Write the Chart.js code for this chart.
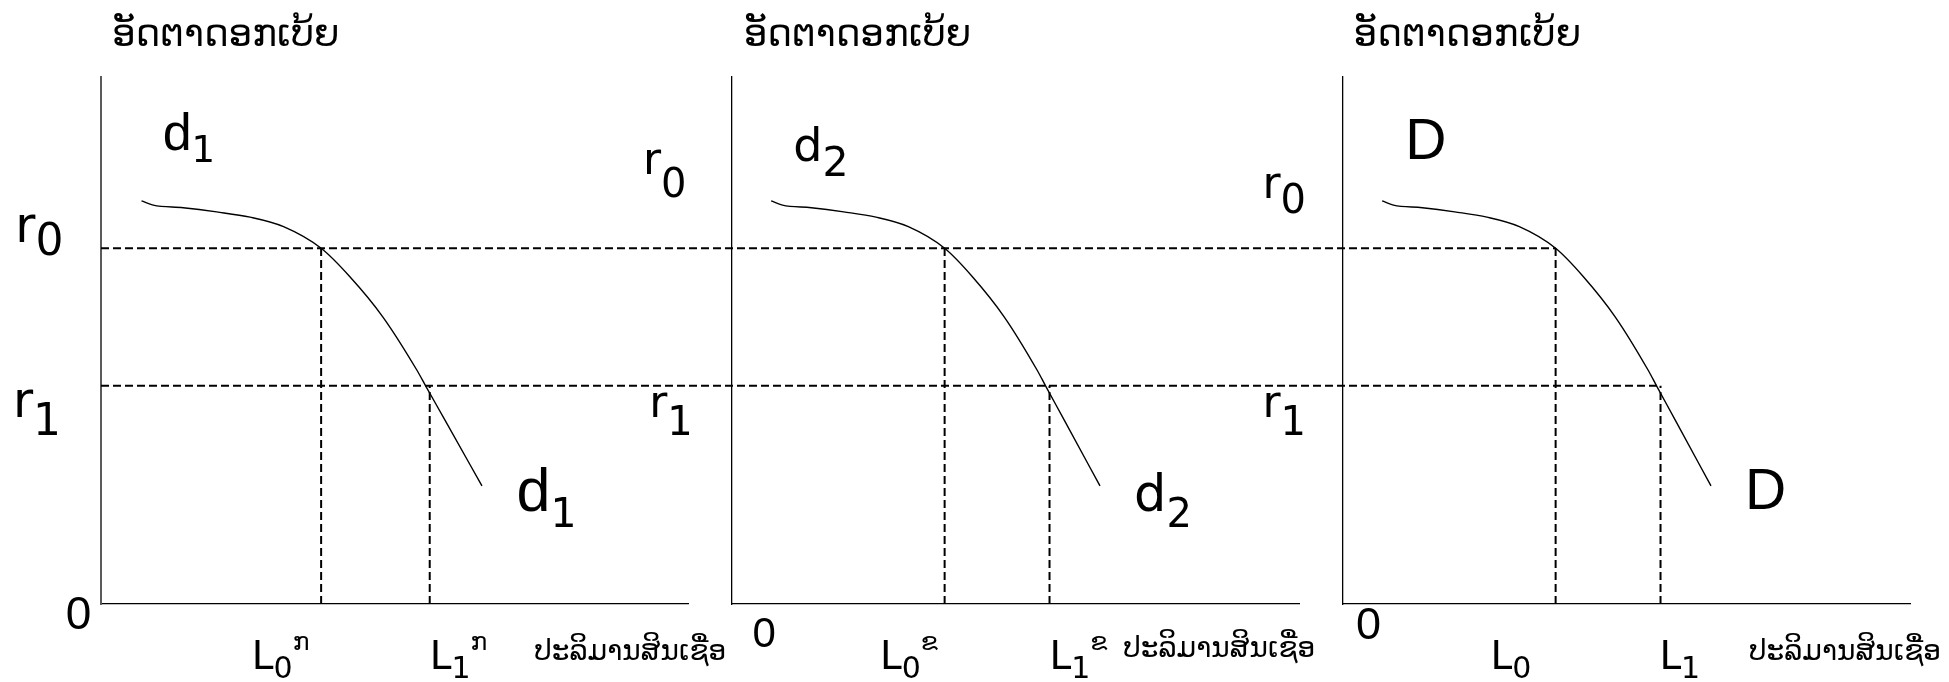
<!DOCTYPE html>
<html>
<head>
<meta charset="utf-8">
<title>ອັດຕາດອກເບ້ຍ</title>
<script src="https://cdn.jsdelivr.net/npm/chart.js@4.4.1/dist/chart.umd.min.js"></script>
<style>
    html, body { margin: 0; padding: 0; background: #fff; }
    #wrap { position: relative; width: 1949px; height: 682px; overflow: hidden; }
    #wrap canvas { position: absolute; left: 0; top: 0; }
</style>
</head>
<body>
<div id="wrap">
    <canvas id="panel1" width="1949" height="682"></canvas>
    <canvas id="panel2" width="1949" height="682"></canvas>
    <canvas id="panel3" width="1949" height="682"></canvas>
</div>
<script>
// Loan demand curve (same shape in all three panels), axis units 0..100
const loanQty  = [6.9, 8.9, 14.0, 19.7, 25.4, 31.1, 37.5, 42.4, 48.0, 53.8, 55.3, 58.6, 64.9];
const loanRate = [76.5, 75.7, 75.2, 74.4, 73.4, 71.6, 67.5, 62.1, 54.5, 44.4, 41.4, 34.9, 22.4];

// Interest rates r0, r1 and loan amounts L0, L1
const rateLevels = [67.5, 41.4];
const loanLevels = [37.5, 56];

// Texts
const yTitle = 'ອັດຕາດອກເບ້ຍ';
const xTitle = 'ປະລິມານສິນເຊື່ອ';
const curveNames = ['d', 'd', 'D'];
const curveSubs = ['1', '2', ''];
const loanSups = ['ກ', 'ຂ', ''];

const LAO = "'DejaVu Sans'";
const TAHOMA = "'DejaVu Sans'";
const ARIAL = "'Liberation Sans', Arial";

// Draws the text labels of a panel, placed through the panel's scales
const textPlugin = {
    id: 'panelText',
    afterDraw(chart, args, opts) {
        const { ctx } = chart;
        const xs = chart.scales.x;
        const ys = chart.scales.y;
        ctx.save();
        ctx.fillStyle = '#000';
        ctx.textBaseline = 'alphabetic';
        ctx.textAlign = 'left';
        (opts.items || []).forEach(item => {
            let px = xs.getPixelForValue(item.x);
            const py = ys.getPixelForValue(item.y);
            item.parts.forEach(p => {
                if (!p.t) return;
                ctx.font = p.size + 'px ' + (p.family || TAHOMA);
                ctx.fillText(p.t, px, py + (p.dy || 0));
                px += ctx.measureText(p.t).width + (p.gap || 0);
            });
        });
        ctx.restore();
    }
};

function loanLabel(x, i, k) {
    return { x: x, y: -12.4, parts: [
        { t: 'L', size: 39 },
        { t: String(k), size: 30, dy: 9 },
        { t: loanSups[i], size: 25, dy: -19, gap: 0 }
    ]};
}

function rateLabel(x, y, k, subDy, size, subSize) {
    return { x: x, y: y, parts: [
        { t: 'r', size: size || 44 },
        { t: String(k), size: subSize || 40, dy: subDy }
    ]};
}

function curveLabel(i, x, y, size, subSize, subDy, family) {
    return { x: x, y: y, parts: [
        { t: curveNames[i], size: size, family: family },
        { t: curveSubs[i], size: subSize, dy: subDy, gap: 0 }
    ]};
}

const panelLabels = [
    [
        { x: 1.9, y: 105.9, parts: [{ t: yTitle, size: 37, family: LAO }] },
        curveLabel(0, 10.5, 86.1, 52, 37, 11.7, ARIAL),
        curveLabel(0, 70.8, 17.7, 61, 41, 16, ARIAL),
        rateLabel(-14.6, 68.7, 0, 13, 49, 44),
        rateLabel(-15.0, 35.4, 1, 17.5, 49, 44),
        { x: -6.0, y: -4.7, parts: [{ t: '0', size: 46, family: ARIAL }] },
        loanLabel(25.7, 0, 0),
        loanLabel(56.0, 0, 1),
        { x: 73.8, y: -10.6, parts: [{ t: xTitle, size: 28, family: LAO }] }
    ],
    [
        { x: 2.1, y: 105.9, parts: [{ t: yTitle, size: 37, family: LAO }] },
        curveLabel(1, 10.8, 84.1, 46, 41, 15),
        curveLabel(1, 70.9, 17.6, 51, 40, 16),
        rateLabel(-15.7, 81.6, 0, 23),
        rateLabel(-14.6, 35.5, 1, 18),
        { x: 3.6, y: -8.2, parts: [{ t: '0', size: 42, family: ARIAL }] },
        loanLabel(26.1, 1, 0),
        loanLabel(56.0, 1, 1),
        { x: 69.0, y: -10.0, parts: [{ t: xTitle, size: 28, family: LAO }] }
    ],
    [
        { x: 1.9, y: 105.9, parts: [{ t: yTitle, size: 37, family: LAO }] },
        curveLabel(2, 11.0, 84.5, 57, 40, 15, ARIAL),
        curveLabel(2, 70.9, 18.1, 57, 40, 15, ARIAL),
        rateLabel(-14.2, 77.0, 0, 15),
        rateLabel(-14.2, 35.5, 1, 18),
        { x: 2.3, y: -6.6, parts: [{ t: '0', size: 45, family: ARIAL }] },
        loanLabel(26.0, 2, 0),
        loanLabel(55.8, 2, 1),
        { x: 71.6, y: -10.6, parts: [{ t: xTitle, size: 28, family: LAO }] }
    ]
];

function dashed(points) {
    return {
        data: points,
        borderColor: '#000',
        borderWidth: 2,
        borderDash: [8, 4],
        pointRadius: 0,
        clip: false,
        fill: false
    };
}

function makePanel(id, idx, pad, yAxisColor, yAxisWidth, withRateLines) {
    const datasets = [
        {
            data: loanQty.map((q, i) => ({ x: q, y: loanRate[i] })),
            borderColor: '#000',
            borderWidth: 1.4,
            pointRadius: 0,
            cubicInterpolationMode: 'monotone',
            fill: false
        },
        dashed([{ x: loanLevels[0], y: 0 }, { x: loanLevels[0], y: rateLevels[0] }]),
        dashed([{ x: loanLevels[1], y: 0 }, { x: loanLevels[1], y: rateLevels[1] }])
    ];
    if (withRateLines) {
        datasets.push(dashed([{ x: 0, y: rateLevels[0] }, { x: 100, y: rateLevels[0] }]));
        datasets.push(dashed([{ x: 0, y: rateLevels[1] }, { x: 100, y: rateLevels[1] }]));
    }
    return new Chart(document.getElementById(id), {
        type: 'line',
        data: { datasets: datasets },
        options: {
            responsive: false,
            animation: false,
            events: [],
            layout: { padding: pad },
            plugins: {
                legend: { display: false },
                tooltip: { enabled: false },
                panelText: { items: panelLabels[idx] }
            },
            scales: {
                x: {
                    type: 'linear', min: 0, max: 100,
                    ticks: { display: false },
                    grid: { display: false, drawTicks: false },
                    border: { display: true, color: '#000', width: 1.3 }
                },
                y: {
                    type: 'linear', min: 0, max: 100,
                    ticks: { display: false },
                    grid: { display: false, drawTicks: false },
                    border: { display: true, color: yAxisColor, width: yAxisWidth }
                }
            }
        },
        plugins: [textPlugin]
    });
}

const chart1 = makePanel('panel1', 0, { left: 101, right: 1261, top: 77, bottom: 78 }, '#5a5a5a', 2, true);
const chart2 = makePanel('panel2', 1, { left: 732, right: 650, top: 77, bottom: 78 }, '#000', 1.3, false);
const chart3 = makePanel('panel3', 2, { left: 1343, right: 39, top: 77, bottom: 78 }, '#000', 1.3, false);

// r0 / r1 guide lines run from the first panel's axis to L0 / L1 of the last panel
loanLevels.forEach((L, i) => {
    const px = chart3.scales.x.getPixelForValue(L);
    chart1.data.datasets[3 + i].data[1].x = chart1.scales.x.getValueForPixel(px);
});
chart1.update('none');
</script>
</body>
</html>
